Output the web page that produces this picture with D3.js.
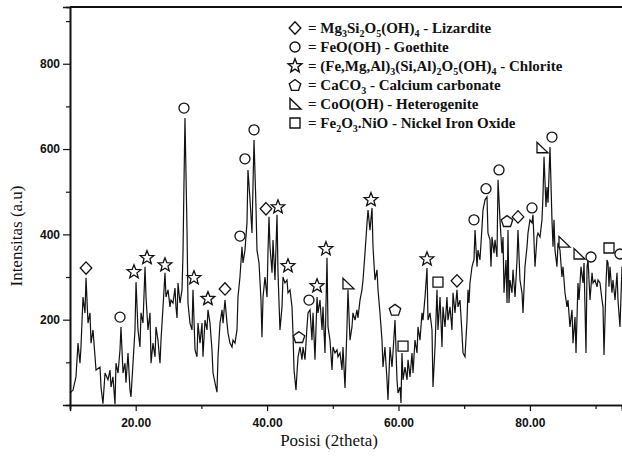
<!DOCTYPE html>
<html><head><meta charset="utf-8">
<script src="https://cdn.jsdelivr.net/npm/d3@7"></script>
<style>body{margin:0;background:#fff}svg{display:block}</style>
</head><body><div id="chart"></div>
<script>
// ---- Data (2theta vs intensity) ----
const twoTheta = [10.00,10.46,10.91,11.22,11.52,11.67,11.98,12.28,12.44,12.74,13.04,13.20,13.50,13.81,13.96,14.57,14.72,15.02,15.33,15.78,16.09,16.24,16.54,16.85,17.00,17.31,17.61,17.76,18.07,18.37,18.52,18.83,19.13,19.28,19.59,19.89,20.05,20.35,20.65,20.81,21.11,21.42,21.57,21.87,22.18,22.33,22.63,22.94,23.09,23.39,23.70,23.85,24.16,24.46,24.61,24.92,25.22,25.37,25.68,25.98,26.13,26.29,
26.44,26.74,27.05,27.20,27.35,27.50,27.81,27.96,28.26,28.57,28.72,29.03,29.33,29.48,29.79,30.09,30.24,30.55,30.85,31.00,31.31,31.61,31.77,32.07,32.37,32.53,32.83,33.14,33.29,33.59,33.90,34.05,34.35,34.66,34.81,35.11,35.42,35.57,35.87,36.18,36.33,36.63,36.94,37.09,37.40,37.70,37.85,38.01,38.31,38.46,38.77,39.07,39.22,39.38,39.68,39.99,40.14,40.29,
40.44,40.75,40.90,41.20,41.51,41.66,41.96,42.27,42.42,42.72,43.03,43.18,43.49,43.79,43.94,44.10,44.40,44.55,44.71,45.01,45.31,45.47,45.77,46.07,46.23,46.53,46.83,46.99,47.29,47.60,47.75,48.05,48.36,48.51,48.81,49.12,49.27,49.57,49.88,50.03,50.33,50.64,50.79,51.10,51.40,51.55,51.86,52.16,52.31,52.62,52.92,53.07,53.38,53.68,53.83,54.14,54.44,54.60,54.90,55.21,55.36,55.66,55.97,56.12,56.42,56.73,56.88,57.18,57.49,57.64,57.94,58.25,58.40,58.71,59.01,59.16,59.47,59.77,59.93,60.23,60.38,60.53,60.69,60.99,61.30,61.45,61.75,62.06,62.21,62.51,62.82,62.97,63.27,63.58,63.73,64.04,64.34,64.49,64.79,65.10,65.25,65.56,65.86,66.01,66.32,66.62,66.77,67.08,67.38,67.53,67.84,68.14,68.30,68.60,68.90,
69.06,69.36,69.66,69.82,70.12,70.43,70.58,70.73,70.88,71.19,71.34,71.49,71.65,71.95,72.10,72.40,72.71,72.86,73.17,73.47,73.62,73.93,74.08,74.23,74.54,74.69,74.99,75.15,75.45,75.75,75.91,76.06,76.36,76.52,76.67,76.82,76.97,77.28,77.43,77.74,78.04,78.19,78.49,78.80,78.95,79.25,79.56,79.71,80.01,80.32,80.47,80.78,81.08,81.23,81.54,81.84,81.99,82.15,82.45,82.60,82.76,83.06,83.36,83.52,83.67,
83.82,84.12,84.28,84.58,84.88,85.04,85.34,85.65,85.80,86.10,86.41,86.56,86.87,87.02,87.32,87.48,87.78,88.09,88.24,88.54,88.70,88.85,89.15,89.46,89.61,89.91,90.22,90.37,90.67,90.98,91.13,91.28,91.59,91.74,91.89,92.04,92.19,92.50,92.65,92.96,93.26,93.41,93.71,94.02];
const intensity = [28,35,66,145,98,136,253,216,298,192,216,145,176,113,82,89,42,3,75,59,82,42,66,2,98,75,129,183,75,98,52,122,35,19,98,176,288,176,136,216,192,324,253,176,216,98,145,113,183,152,98,152,230,310,253,270,230,246,239,274,230,204,
286,239,270,356,521,673,410,239,192,176,270,129,113,192,145,192,113,199,176,223,192,129,75,52,30,113,192,223,192,246,192,169,145,136,152,145,176,253,300,371,333,363,427,551,481,403,511,621,464,363,333,246,159,253,300,253,363,441,
371,310,387,293,446,310,176,230,300,286,293,263,270,230,169,82,35,75,113,136,106,136,106,183,216,223,152,216,106,253,216,246,176,230,122,345,183,152,82,136,122,129,113,122,82,136,40,183,270,152,183,216,199,223,204,246,270,293,356,427,457,410,462,371,293,317,270,216,152,89,136,59,12,136,89,122,199,59,28,42,5,122,59,89,59,106,66,122,75,152,122,183,152,216,199,253,321,199,216,176,42,136,270,176,253,136,230,183,253,199,230,176,263,216,270,
230,246,169,122,113,199,270,239,286,324,333,340,410,324,363,340,417,457,481,488,403,387,324,394,356,387,347,528,434,356,394,263,340,239,410,239,293,263,317,253,340,410,293,263,216,324,371,403,434,427,446,324,394,403,394,434,488,582,464,511,474,605,434,371,434,
363,324,380,363,300,324,263,230,246,183,223,145,206,122,286,246,324,286,333,122,324,340,246,310,286,293,277,293,286,246,230,117,286,340,333,277,324,263,293,246,310,246,183,324];

// ---- Phase markers ----
const lizarditeX = [12.44,33.59,39.83,68.90,78.19];
const lizarditeY = [321,272,460,291,441];
const goethiteX = [17.61,27.35,35.87,36.63,38.01,46.38,71.49,73.32,75.30,80.32,83.36,89.30,93.71];
const goethiteY = [206,696,396,577,645,246,434,507,551,462,628,347,354];
const chloriteX = [19.74,21.72,24.46,28.87,31.00,41.66,43.18,47.60,48.96,55.81,64.34];
const chloriteY = [312,345,328,298,249,464,326,279,366,481,342];
const calciteX = [44.86,59.47,76.52];
const calciteY = [159,223,431];
const heterogeniteX = [52.31,81.84,85.19,87.48];
const heterogeniteY = [284,603,382,354];
const nickelOxideX = [60.69,66.01,92.04];
const nickelOxideY = [138,288,368];

const yTicks = [200,400,600,800];
const yMinor = [100,300,500,700,900];
const xTicks = [20,40,60,80];
const xMinor = [30,50,70,90];

// ---- Symbol shapes ----
function polyPath(pts){return "M"+pts.map(p=>p[0].toFixed(2)+","+p[1].toFixed(2)).join("L")+"Z";}
const shapes = {
  diamond: () => polyPath([[0,-6.2],[5.8,0],[0,6.2],[-5.8,0]]),
  circle: () => { const p=d3.path(); p.arc(0,0,5,0,2*Math.PI); return p.toString(); },
  star: () => { const pts=[]; for(let i=0;i<10;i++){const r=i%2?3.1:7.2; const a=-Math.PI/2+i*Math.PI/5; pts.push([r*Math.cos(a),r*Math.sin(a)]);} return polyPath(pts); },
  pentagon: () => { const pts=[]; for(let i=0;i<5;i++){const a=-Math.PI/2+i*2*Math.PI/5; pts.push([6*Math.cos(a),6*Math.sin(a)+0.5]);} return polyPath(pts); },
  triangle: () => polyPath([[-5,-5.5],[-5,5],[6,5]]),
  square: () => polyPath([[-5,-5],[5,-5],[5,5],[-5,5]])
};

const W=622,H=456;
const svg = d3.select("#chart").append("svg").attr("width",W).attr("height",H);
const x = d3.scaleLinear().domain([10,94.02]).range([70,622]);
const y = d3.scaleLinear().domain([0,933]).range([405,7]);

const tickFont = "'Liberation Sans', Arial, sans-serif";
const serif = "'Liberation Serif', 'Times New Roman', serif";

// trace
const pts = twoTheta.map((t,i)=>[t,intensity[i]]);
svg.append("path").datum(pts)
  .attr("d", d3.line().x(d=>x(d[0])).y(d=>y(d[1])))
  .attr("fill","none").attr("stroke","#111").attr("stroke-width",1.2).attr("stroke-linejoin","miter");

// axes
const gy = svg.append("g").attr("transform","translate(70,0)")
  .call(d3.axisLeft(y).tickValues(yTicks).tickSize(7).tickFormat(d3.format("d")));
svg.append("g").attr("transform","translate(70,0)")
  .call(d3.axisLeft(y).tickValues(yMinor).tickSize(4).tickFormat(""));
const gx = svg.append("g").attr("transform","translate(0,405)")
  .call(d3.axisBottom(x).tickValues(xTicks).tickSize(6).tickFormat(d3.format(".2f")));
svg.append("g").attr("transform","translate(0,405)")
  .call(d3.axisBottom(x).tickValues(xMinor).tickSize(4).tickFormat(""));
svg.selectAll(".domain").attr("stroke","#111").attr("stroke-width",1.6);
svg.selectAll(".tick line").attr("stroke","#111").attr("stroke-width",1.2);
gy.selectAll("text").attr("font-family",tickFont).attr("font-weight","bold").attr("font-size",12).attr("fill","#111");
gx.selectAll("text").attr("font-family",tickFont).attr("font-weight","bold").attr("font-size",12).attr("fill","#111").attr("dy","1.1em");
// top frame
svg.append("line").attr("x1",x(10)).attr("x2",622).attr("y1",y(933)).attr("y2",y(933)).attr("stroke","#111").attr("stroke-width",1.8);

// axis titles
svg.append("text").attr("x",329).attr("y",446).attr("text-anchor","middle")
  .attr("font-family",serif).attr("font-size",17).attr("fill","#111").text("Posisi (2theta)");
svg.append("text").attr("transform","translate(22,236) rotate(-90)").attr("text-anchor","middle")
  .attr("font-family",serif).attr("font-size",17).attr("fill","#111").text("Intensitas (a.u)");

// markers
const groups = [
  ["diamond",lizarditeX,lizarditeY],["circle",goethiteX,goethiteY],["star",chloriteX,chloriteY],
  ["pentagon",calciteX,calciteY],["triangle",heterogeniteX,heterogeniteY],["square",nickelOxideX,nickelOxideY]
];
groups.forEach(([s,xs,ys])=>{
  svg.append("g").selectAll("path").data(xs.map((v,i)=>[v,ys[i]])).join("path")
    .attr("d",shapes[s]()).attr("transform",d=>`translate(${x(d[0])},${y(d[1])})`)
    .attr("fill","#fff").attr("stroke","#111").attr("stroke-width",1.3);
});

// legend
const legendRows = [
  ["diamond",[["= Mg"],["3",1],["Si"],["2",1],["O"],["5",1],["(OH)"],["4",1],[" - Lizardite"]]],
  ["circle",[["= FeO(OH) - Goethite"]]],
  ["star",[["= (Fe,Mg,Al)"],["3",1],["(Si,Al)"],["2",1],["O"],["5",1],["(OH)"],["4",1],[" - Chlorite"]]],
  ["pentagon",[["= CaCO"],["3",1],[" - Calcium carbonate"]]],
  ["triangle",[["= CoO(OH) - Heterogenite"]]],
  ["square",[["= Fe"],["2",1],["O"],["3",1],[".NiO - Nickel Iron Oxide"]]]
];
const lg = svg.append("g");
legendRows.forEach(([s,parts],i)=>{
  const cy = 28 + i*19;
  lg.append("path").attr("d",shapes[s]()).attr("transform",`translate(295,${cy})`)
    .attr("fill","#fff").attr("stroke","#111").attr("stroke-width",1.4);
  const t = lg.append("text").attr("x",308).attr("y",cy+5).attr("font-family",serif)
    .attr("font-weight","bold").attr("font-size",15).attr("fill","#111");
  let sub=false;
  parts.forEach(([str,isSub])=>{
    const ts = t.append("tspan").text(str);
    if(isSub && !sub){ts.attr("dy",3.5).attr("font-size",10);sub=true;}
    else if(isSub && sub){ts.attr("font-size",10);}
    else if(!isSub && sub){ts.attr("dy",-3.5);sub=false;}
  });
});
</script></body></html>
